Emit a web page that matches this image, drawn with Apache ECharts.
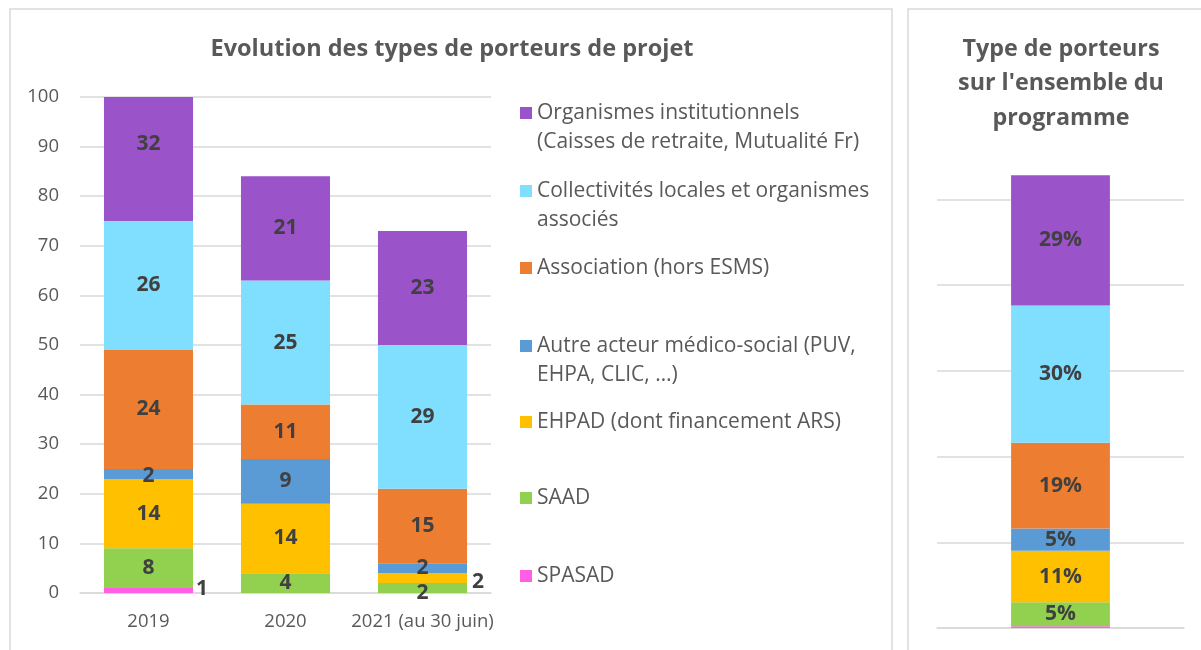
<!DOCTYPE html>
<html><head><meta charset="utf-8">
<script src="https://cdn.jsdelivr.net/npm/echarts@6/dist/echarts.min.js"></script>
<style>html,body{margin:0;padding:0;background:#fff}#c{width:1201px;height:650px}</style>
</head><body><div id="c"></div>
<script>
// ---- data ----
const categories = ['2019', '2020', '2021 (au 30 juin)'];
const seriesNames = [
  'SPASAD',
  'SAAD',
  'EHPAD (dont financement ARS)',
  'Autre acteur médico-social (PUV, EHPA, CLIC, …)',
  'Association (hors ESMS)',
  'Collectivités locales et organismes associés',
  'Organismes institutionnels (Caisses de retraite, Mutualité Fr)'
];
const spasad = [1, null, null];
const saad = [8, 4, 2];
const ehpad = [14, 14, 2];
const autre = [2, 9, 2];
const association = [24, 11, 15];
const collectivites = [26, 25, 29];
const organismes = [32, 21, 23];
// totals over the whole programme (same order as seriesNames)
const programmeTotals = [1, 14, 30, 13, 50, 80, 76];
const leftTitle = 'Evolution des types de porteurs de projet';
const rightTitle = "Type de porteurs\nsur l'ensemble du\nprogramme";
const legendLabels = {
  'Organismes institutionnels (Caisses de retraite, Mutualité Fr)': 'Organismes institutionnels\n(Caisses de retraite, Mutualité Fr)',
  'Collectivités locales et organismes associés': 'Collectivités locales et organismes\nassociés',
  'Autre acteur médico-social (PUV, EHPA, CLIC, …)': 'Autre acteur médico-social (PUV,\nEHPA, CLIC, …)'
};

// ---- styles ----
const colors = ['#FF5EE5', '#92D050', '#FFC000', '#5B9BD5', '#ED7D31', '#80DEFF', '#9A53C8'];
const FONT = 'Open Sans';
const labelStyle = { show: true, position: 'inside', color: '#404040', fontFamily: FONT, fontWeight: 'bold', fontSize: 21 };
const gridColor = '#d9d9d9';

function withLabel(arr, idx, lbl) {
  return arr.map((v, i) => (i === idx && v != null) ? { value: v, label: lbl } : v);
}
const leftData = [
  withLabel(spasad, 0, { position: 'right', distance: 3, offset: [0, -2] }),
  withLabel(saad, 2, { offset: [0, 5] }),
  withLabel(ehpad, 2, { position: 'right', distance: 5, offset: [0, 4] }),
  withLabel(autre, 0, { offset: [0, 2] }),
  association,
  collectivites,
  withLabel(organismes, 0, { offset: [0, -15] })
];
const programmeSum = programmeTotals.reduce((a, b) => a + b, 0);

const series = [];
seriesNames.forEach((name, i) => {
  series.push({
    name, type: 'bar', stack: 'years', xAxisIndex: 0, yAxisIndex: 0,
    barWidth: '65%', itemStyle: { color: colors[i] },
    label: labelStyle, data: leftData[i], clip: true
  });
});
seriesNames.forEach((name, i) => {
  series.push({
    name, type: 'bar', stack: 'total', xAxisIndex: 1, yAxisIndex: 1,
    barWidth: '40%', itemStyle: { color: colors[i] },
    label: Object.assign({}, labelStyle, {
      show: i !== 0,
      formatter: p => Math.round(p.value / programmeSum * 100) + '%'
    }),
    data: [programmeTotals[i]]
  });
});

// legends, one per entry so that entries are evenly spaced like the original
const LH = 29;
const legendOrder = [6, 5, 4, 3, 2, 1, 0];
const legendCenters = [113, 191, 268, 346, 422, 498, 576];
const legends = legendOrder.map((si, k) => {
  const name = seriesNames[si];
  const twoLines = !!legendLabels[name];
  return {
    data: [name], left: 520, top: legendCenters[k] - (twoLines ? 1.5 * LH : LH / 2),
    orient: 'vertical', padding: 0, itemWidth: 12, itemHeight: 12, itemGap: 0, icon: 'rect',
    selectedMode: false,
    // an empty first line keeps the marker level with the first text line
    formatter: n => legendLabels[n] ? '\n' + legendLabels[n] : n,
    textStyle: { fontFamily: FONT, fontSize: 21, color: '#595959', lineHeight: LH }
  };
});

const chart = echarts.init(document.getElementById('c'), null, { renderer: 'canvas' });
chart.setOption({
  animation: false,
  backgroundColor: '#fff',
  title: [
    { text: leftTitle, left: 452, top: 34, textAlign: 'center', padding: 0,
      textStyle: { fontFamily: FONT, fontWeight: 'bold', fontSize: 23.5, color: '#595959', lineHeight: 30 } },
    { text: rightTitle, left: 1061, top: 32, textAlign: 'center', padding: 0,
      textStyle: { fontFamily: FONT, fontWeight: 'bold', fontSize: 23.3, color: '#595959', lineHeight: 34.5 } }
  ],
  legend: legends,
  graphic: [
    { type: 'rect', shape: { x: 10, y: 9, width: 882, height: 660 }, style: { fill: null, stroke: gridColor, lineWidth: 1.5 }, silent: true, z: -10 },
    { type: 'rect', shape: { x: 908, y: 9, width: 320, height: 660 }, style: { fill: null, stroke: gridColor, lineWidth: 1.5 }, silent: true, z: -10 }
  ],
  grid: [
    { left: 80, right: 710, top: 97, bottom: 57 },
    { left: 937, right: 17, top: 113.5, bottom: 22 }
  ],
  xAxis: [
    { type: 'category', gridIndex: 0, data: categories,
      axisLine: { lineStyle: { color: gridColor, width: 1.5 } }, axisTick: { show: false },
      axisLabel: { interval: 0, color: '#595959', fontFamily: FONT, fontSize: 18.5, margin: 19 } },
    { type: 'category', gridIndex: 1, data: ['Total'],
      axisLine: { lineStyle: { color: gridColor, width: 1.5 } }, axisTick: { show: false },
      axisLabel: { show: false } }
  ],
  yAxis: [
    { type: 'value', gridIndex: 0, min: 0, max: 100, interval: 10,
      axisLine: { show: false }, axisTick: { show: false },
      axisLabel: { color: '#595959', fontFamily: FONT, fontSize: 18.5, margin: 21 },
      splitLine: { lineStyle: { color: gridColor, width: 1.5 } } },
    { type: 'value', gridIndex: 1, min: 0, max: 300, interval: 50,
      axisLine: { show: false }, axisTick: { show: false }, axisLabel: { show: false },
      splitLine: { showMaxLine: false, lineStyle: { color: gridColor, width: 1.5 } } }
  ],
  series
});
</script></body></html>
